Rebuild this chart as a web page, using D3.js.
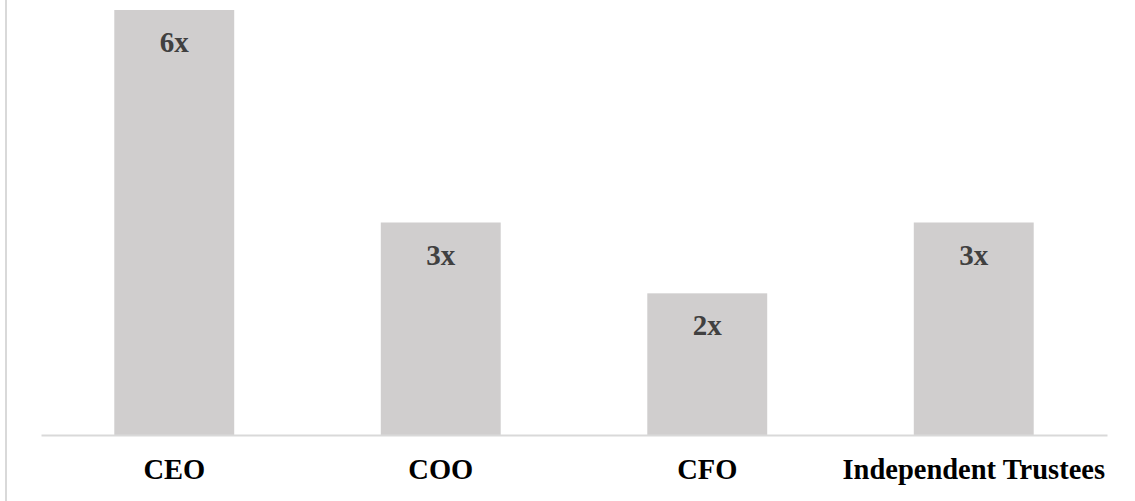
<!DOCTYPE html>
<html>
<head>
<meta charset="utf-8">
<script src="https://cdn.jsdelivr.net/npm/d3@7"></script>
<style>
  body { margin: 0; background: #fff; }
  text { font-family: "Liberation Serif", "Times New Roman", serif; font-weight: bold; }
</style>
</head>
<body>
<svg id="chart"></svg>
<script>
const categories = ["CEO", "COO", "CFO", "Independent Trustees"];
const values = [6, 3, 2, 3];
const valueLabels = ["6x", "3x", "2x", "3x"];

const width = 1135;
const height = 501;
const margin = { top: 10, right: 28, bottom: 66, left: 41 };

const svg = d3.select("#chart")
  .attr("width", width)
  .attr("height", height);

// left border line
svg.append("line")
  .attr("x1", 6).attr("x2", 6)
  .attr("y1", 0).attr("y2", height)
  .attr("stroke", "#d9d9d9")
  .attr("stroke-width", 2);

const xScale = d3.scaleBand()
  .domain(categories)
  .range([margin.left, width - margin.right])
  .paddingInner(0.55)
  .paddingOuter(0.275);

const yScale = d3.scaleLinear()
  .domain([0, d3.max(values)])
  .range([height - margin.bottom, margin.top]);

const data = categories.map((c, i) => ({ cat: c, val: values[i], label: valueLabels[i] }));

// bars
svg.selectAll("rect.bar")
  .data(data)
  .enter()
  .append("rect")
  .attr("class", "bar")
  .attr("x", d => xScale(d.cat))
  .attr("y", d => yScale(d.val))
  .attr("width", xScale.bandwidth())
  .attr("height", d => yScale(0) - yScale(d.val))
  .attr("fill", "#d0cece");

// value labels
svg.selectAll("text.value")
  .data(data)
  .enter()
  .append("text")
  .attr("class", "value")
  .attr("x", d => xScale(d.cat) + xScale.bandwidth() / 2)
  .attr("y", d => yScale(d.val) + 42)
  .attr("text-anchor", "middle")
  .attr("font-size", 29)
  .attr("fill", "#404040")
  .text(d => d.label);

// x axis
const xAxis = svg.append("g")
  .attr("transform", `translate(0, ${yScale(0)})`)
  .call(d3.axisBottom(xScale).tickSize(0).tickPadding(0));

xAxis.select(".domain")
  .attr("stroke", "#d9d9d9")
  .attr("stroke-width", 2);

xAxis.selectAll(".tick text")
  .attr("font-family", "Liberation Serif, Times New Roman, serif")
  .attr("font-weight", "bold")
  .attr("font-size", 28.5)
  .attr("fill", "#000")
  .attr("dy", 0)
  .attr("y", 44);
</script>
</body>
</html>
